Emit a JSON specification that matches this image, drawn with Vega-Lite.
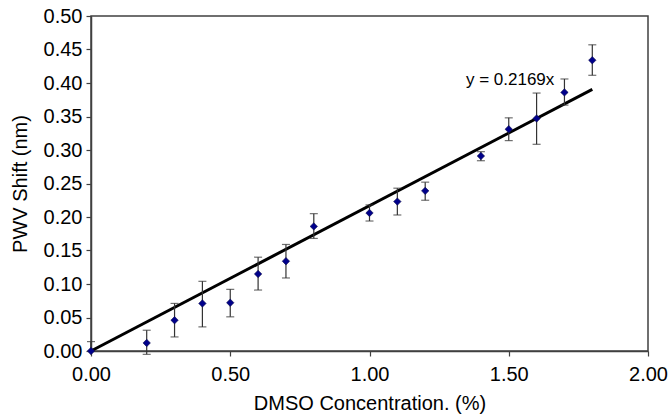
{
  "$schema": "https://vega.github.io/schema/vega-lite/v6.json",
  "width": 557,
  "height": 335,
  "autosize": {"type": "none"},
  "padding": {"left": 91, "top": 16, "right": 20, "bottom": 64},
  "background": "white",
  "config": {
    "font": "Liberation Sans",
    "view": {"stroke": "#404040", "strokeWidth": 1.5},
    "axis": {
      "grid": false,
      "domainColor": "#404040",
      "domainWidth": 1.5,
      "tickColor": "#404040",
      "tickWidth": 1.2,
      "tickSize": 5,
      "labelFontSize": 20,
      "labelColor": "#000000",
      "labelFont": "Liberation Sans",
      "titleFont": "Liberation Sans",
      "titleFontSize": 20,
      "titleFontWeight": "normal",
      "titleColor": "#000000",
      "labelOverlap": false,
      "labelFlush": false
    },
    "axisX": {"labelPadding": 8, "titlePadding": 9},
    "axisY": {"labelPadding": 4, "titlePadding": 13}
  },
  "datasets": {
    "pts": [
      {"x": 0.0, "y": 0.0, "lo": 0.0, "hi": 0.014},
      {"x": 0.2, "y": 0.012, "lo": -0.005, "hi": 0.031},
      {"x": 0.3, "y": 0.046, "lo": 0.021, "hi": 0.071},
      {"x": 0.4, "y": 0.071, "lo": 0.036, "hi": 0.104},
      {"x": 0.5, "y": 0.072, "lo": 0.051, "hi": 0.092},
      {"x": 0.6, "y": 0.115, "lo": 0.091, "hi": 0.140},
      {"x": 0.7, "y": 0.134, "lo": 0.109, "hi": 0.159},
      {"x": 0.8, "y": 0.186, "lo": 0.168, "hi": 0.205},
      {"x": 1.0, "y": 0.206, "lo": 0.194, "hi": 0.218},
      {"x": 1.1, "y": 0.223, "lo": 0.203, "hi": 0.243},
      {"x": 1.2, "y": 0.239, "lo": 0.225, "hi": 0.252},
      {"x": 1.4, "y": 0.291, "lo": 0.284, "hi": 0.2975},
      {"x": 1.5, "y": 0.331, "lo": 0.314, "hi": 0.348},
      {"x": 1.6, "y": 0.347, "lo": 0.3085, "hi": 0.385},
      {"x": 1.7, "y": 0.386, "lo": 0.367, "hi": 0.406},
      {"x": 1.8, "y": 0.434, "lo": 0.4115, "hi": 0.457}
    ],
    "fit": [
      {"x": 0.0, "y": 0.0},
      {"x": 1.8, "y": 0.3904}
    ],
    "eq": [
      {"x": 1.505, "y": 0.404, "label": "y = 0.2169x"}
    ]
  },
  "layer": [
    {
      "data": {"name": "fit"},
      "mark": {"type": "line", "color": "#000000", "strokeWidth": 3},
      "encoding": {
        "x": {
          "field": "x", "type": "quantitative",
          "scale": {"domain": [0, 2], "nice": false, "zero": false},
          "axis": {"values": [0, 0.5, 1, 1.5, 2], "format": ".2f"},
          "title": "DMSO Concentration. (%)"
        },
        "y": {
          "field": "y", "type": "quantitative",
          "scale": {"domain": [0, 0.5], "nice": false},
          "axis": {"values": [0, 0.05, 0.1, 0.15, 0.2, 0.25, 0.3, 0.35, 0.4, 0.45, 0.5], "format": ".2f"},
          "title": "PWV Shift (nm)"
        }
      }
    },
    {
      "data": {"name": "pts"},
      "mark": {"type": "rule", "color": "#333333", "strokeWidth": 1.2},
      "encoding": {
        "x": {"field": "x", "type": "quantitative", "title": "DMSO Concentration. (%)",
              "axis": {"values": [0, 0.5, 1, 1.5, 2], "format": ".2f"}},
        "y": {"field": "lo", "type": "quantitative", "title": "PWV Shift (nm)",
              "axis": {"values": [0, 0.05, 0.1, 0.15, 0.2, 0.25, 0.3, 0.35, 0.4, 0.45, 0.5], "format": ".2f"}},
        "y2": {"field": "hi"}
      }
    },
    {
      "data": {"name": "pts"},
      "mark": {"type": "tick", "orient": "horizontal", "color": "#333333", "size": 8, "thickness": 1.2},
      "encoding": {
        "x": {"field": "x", "type": "quantitative", "title": "DMSO Concentration. (%)",
              "axis": {"values": [0, 0.5, 1, 1.5, 2], "format": ".2f"}},
        "y": {"field": "hi", "type": "quantitative", "title": "PWV Shift (nm)",
              "axis": {"values": [0, 0.05, 0.1, 0.15, 0.2, 0.25, 0.3, 0.35, 0.4, 0.45, 0.5], "format": ".2f"}}
      }
    },
    {
      "data": {"name": "pts"},
      "transform": [{"filter": "datum.x > 0"}],
      "mark": {"type": "tick", "orient": "horizontal", "color": "#333333", "size": 8, "thickness": 1.2},
      "encoding": {
        "x": {"field": "x", "type": "quantitative", "title": "DMSO Concentration. (%)",
              "axis": {"values": [0, 0.5, 1, 1.5, 2], "format": ".2f"}},
        "y": {"field": "lo", "type": "quantitative", "title": "PWV Shift (nm)",
              "axis": {"values": [0, 0.05, 0.1, 0.15, 0.2, 0.25, 0.3, 0.35, 0.4, 0.45, 0.5], "format": ".2f"}}
      }
    },
    {
      "data": {"name": "pts"},
      "mark": {"type": "point", "shape": "diamond", "filled": true, "size": 55, "fill": "#00008B", "stroke": "#10104a", "strokeWidth": 0.6, "opacity": 1},
      "encoding": {
        "x": {"field": "x", "type": "quantitative", "title": "DMSO Concentration. (%)",
              "axis": {"values": [0, 0.5, 1, 1.5, 2], "format": ".2f"}},
        "y": {"field": "y", "type": "quantitative", "title": "PWV Shift (nm)",
              "axis": {"values": [0, 0.05, 0.1, 0.15, 0.2, 0.25, 0.3, 0.35, 0.4, 0.45, 0.5], "format": ".2f"}}
      }
    },
    {
      "data": {"name": "eq"},
      "mark": {"type": "text", "fontSize": 17, "font": "Liberation Sans", "color": "#000000", "align": "center", "baseline": "middle"},
      "encoding": {
        "x": {"field": "x", "type": "quantitative", "title": "DMSO Concentration. (%)",
              "axis": {"values": [0, 0.5, 1, 1.5, 2], "format": ".2f"}},
        "y": {"field": "y", "type": "quantitative", "title": "PWV Shift (nm)",
              "axis": {"values": [0, 0.05, 0.1, 0.15, 0.2, 0.25, 0.3, 0.35, 0.4, 0.45, 0.5], "format": ".2f"}},
        "text": {"field": "label"}
      }
    }
  ]
}
